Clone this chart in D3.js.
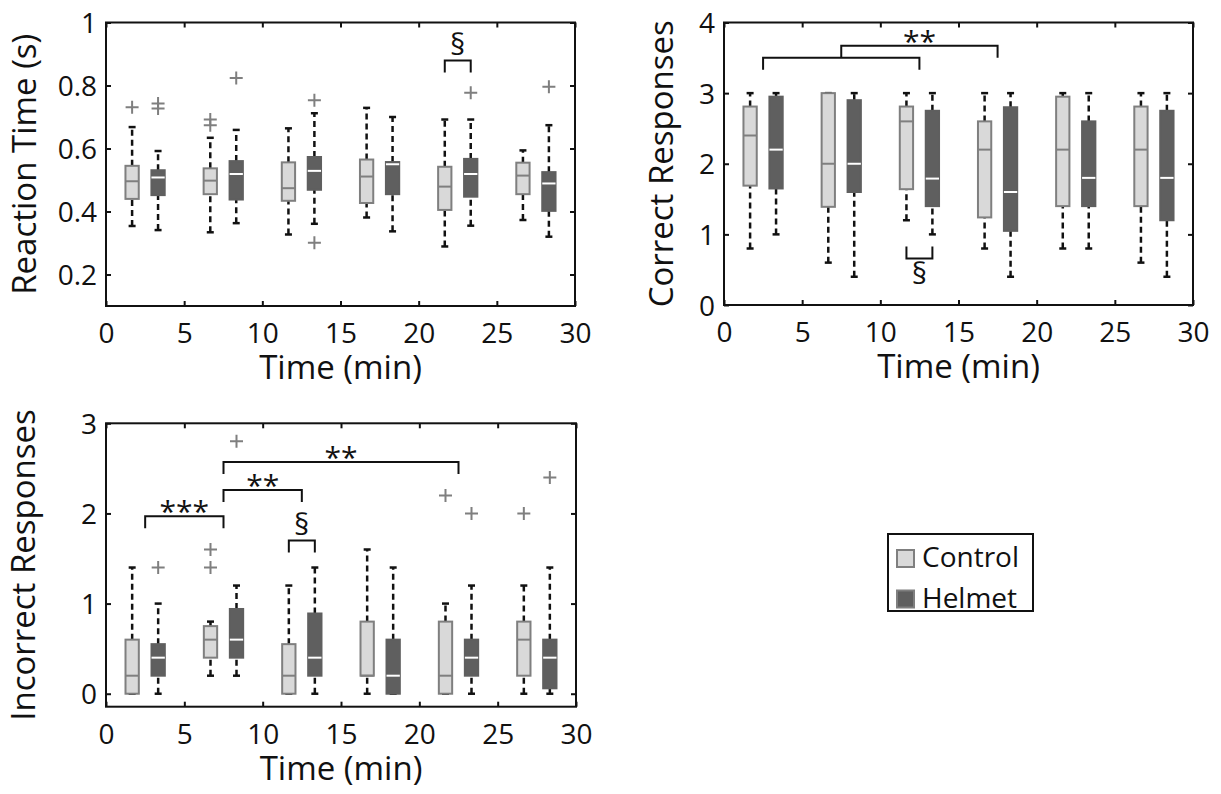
<!DOCTYPE html>
<html>
<head>
<meta charset="utf-8">
<title>Boxplots</title>
<script src="https://cdn.jsdelivr.net/npm/d3@7"></script>
<style>
  body { margin: 0; background: #fff; }
  text { font-family: "Open Sans", "Noto Sans", sans-serif; fill: #111; }
</style>
</head>
<body>
<svg id="chart" width="1221" height="794"></svg>
<script>
// time bins (min), one pair of boxes per bin
var timeBins = [2.5, 7.5, 12.5, 17.5, 22.5, 27.5]
var xTicks = [0, 5, 10, 15, 20, 25, 30]
var groups = ['Control', 'Helmet']

// each box: [lower whisker, q1, median, q3, upper whisker]
var rtControl = [
  [0.354, 0.44, 0.496, 0.545, 0.668],
  [0.334, 0.455, 0.498, 0.537, 0.634],
  [0.327, 0.434, 0.474, 0.556, 0.664],
  [0.381, 0.427, 0.511, 0.565, 0.729],
  [0.289, 0.405, 0.479, 0.542, 0.692],
  [0.373, 0.455, 0.514, 0.555, 0.594]
]
var rtHelmet = [
  [0.341, 0.452, 0.508, 0.531, 0.592],
  [0.363, 0.438, 0.519, 0.56, 0.659],
  [0.361, 0.469, 0.529, 0.573, 0.712],
  [0.337, 0.455, 0.55, 0.557, 0.7],
  [0.355, 0.447, 0.519, 0.567, 0.692],
  [0.32, 0.402, 0.489, 0.525, 0.674]
]
var rtControlOut = [[0.731], [0.692, 0.674], [], [], [], []]
var rtHelmetOut = [[0.743, 0.727], [0.824], [0.753, 0.301], [], [0.777], [0.796]]
var rtTicks = [0.2, 0.4, 0.6, 0.8, 1]
var rtTickLabels = ['0.2', '0.4', '0.6', '0.8', '1']
// [from, to, level, label, side]
var rtBrackets = [[21.67, 23.33, 0.879, '§', 'above']]

var crControl = [
  [0.8, 1.69, 2.4, 2.81, 3.0],
  [0.6, 1.39, 2.0, 3.0, 3.0],
  [1.2, 1.64, 2.6, 2.81, 3.0],
  [0.8, 1.24, 2.2, 2.6, 3.0],
  [0.8, 1.4, 2.2, 2.95, 3.0],
  [0.6, 1.4, 2.2, 2.81, 3.0]
]
var crHelmet = [
  [1.0, 1.65, 2.2, 2.95, 3.0],
  [0.4, 1.6, 2.0, 2.9, 3.0],
  [1.0, 1.4, 1.79, 2.75, 3.0],
  [0.4, 1.05, 1.6, 2.8, 3.0],
  [0.8, 1.4, 1.8, 2.6, 3.0],
  [0.4, 1.2, 1.8, 2.75, 3.0]
]
var crControlOut = [[], [], [], [], [], []]
var crHelmetOut = [[], [], [], [], [], []]
var crTicks = [0, 1, 2, 3, 4]
var crTickLabels = ['0', '1', '2', '3', '4']
var crBrackets = [
  [2.5, 12.5, 3.5, '', 'above'],
  [7.5, 17.5, 3.67, '**', 'above'],
  [11.67, 13.33, 0.66, '§', 'below']
]

var irControl = [
  [0, 0, 0.2, 0.6, 1.4],
  [0.2, 0.4, 0.6, 0.75, 0.8],
  [0, 0, 0.2, 0.55, 1.2],
  [0, 0.2, 0.2, 0.8, 1.6],
  [0, 0, 0.2, 0.8, 1.0],
  [0, 0.2, 0.6, 0.8, 1.2]
]
var irHelmet = [
  [0, 0.2, 0.4, 0.55, 1.0],
  [0.2, 0.4, 0.6, 0.94, 1.2],
  [0, 0.2, 0.4, 0.89, 1.4],
  [0, 0, 0.2, 0.6, 1.4],
  [0, 0.2, 0.4, 0.6, 1.2],
  [0, 0.06, 0.4, 0.6, 1.4]
]
var irControlOut = [[], [1.6, 1.4], [], [], [2.2], [2.0]]
var irHelmetOut = [[1.4], [2.8], [], [], [2.0], [2.4]]
var irTicks = [0, 1, 2, 3]
var irTickLabels = ['0', '1', '2', '3']
var irBrackets = [
  [2.5, 7.5, 1.97, '***', 'above'],
  [7.5, 12.5, 2.26, '**', 'above'],
  [7.5, 22.5, 2.57, '**', 'above'],
  [11.67, 13.33, 1.70, '§', 'above']
]

var colors = { Control: '#d9d9d9', Helmet: '#5f5f5f' }
var edge = '#7f7f7f'
var svg = d3.select('#chart')

function drawPanel(p) {
  var x = d3.scaleLinear().domain([0, 30]).range([p.left, p.right])
  var y = d3.scaleLinear().domain(p.yDomain).range([p.bottom, p.top])
  var g = svg.append('g')

  // axes, ticks pointing inwards on all sides
  g.append('g').attr('transform', 'translate(0,' + p.bottom + ')')
    .call(d3.axisBottom(x).tickValues(xTicks).tickSize(-5).tickSizeOuter(0).tickPadding(17))
  g.append('g').attr('transform', 'translate(0,' + p.top + ')')
    .call(d3.axisTop(x).tickValues(xTicks).tickSize(-5).tickSizeOuter(0).tickFormat(''))
  var ay = g.append('g').attr('transform', 'translate(' + p.left + ',0)')
    .call(d3.axisLeft(y).tickValues(p.yTicks).tickSize(-5).tickSizeOuter(0).tickPadding(9)
      .tickFormat(function(d, i) { return p.yTickLabels[i] }))
  g.append('g').attr('transform', 'translate(' + p.right + ',0)')
    .call(d3.axisRight(y).tickValues(p.yTicks).tickSize(-5).tickSizeOuter(0).tickFormat(''))
  g.selectAll('.domain').remove()
  g.selectAll('.tick line').attr('stroke', '#111').attr('stroke-width', 2)
  g.selectAll('.tick text').attr('font-size', 28).attr('fill', '#111')
    .style('font-family', '"Open Sans", sans-serif')
  ay.selectAll('.tick text').attr('dy', '0.36em')

  g.append('rect')
    .attr('x', p.left).attr('y', p.top)
    .attr('width', p.right - p.left).attr('height', p.bottom - p.top)
    .attr('fill', 'none').attr('stroke', '#111').attr('stroke-width', 2)

  g.append('text')
    .attr('transform', 'translate(' + p.labelX + ',' + (p.top + p.bottom) / 2 + ') rotate(-90)')
    .attr('text-anchor', 'middle').attr('font-size', 33)
    .text(p.yLabel)
  g.append('text')
    .attr('x', (p.left + p.right) / 2).attr('y', p.bottom + 73)
    .attr('text-anchor', 'middle').attr('font-size', 33)
    .text('Time (min)')

  var halfW = (x(0.85) - x(0)) / 2
  groups.forEach(function(name, gi) {
    var stats = gi === 0 ? p.control : p.helmet
    var outs = gi === 0 ? p.controlOut : p.helmetOut
    var off = gi === 0 ? -0.83 : 0.83
    stats.forEach(function(s, i) {
      var cx = x(timeBins[i] + off)
      var b = g.append('g')
      // whiskers
      ;[[s[0], s[1]], [s[3], s[4]]].forEach(function(w) {
        if (w[0] === w[1]) return
        b.append('line').attr('x1', cx).attr('x2', cx)
          .attr('y1', y(w[0])).attr('y2', y(w[1]))
          .attr('stroke', '#111').attr('stroke-width', 2.5).attr('stroke-dasharray', '6,4')
      })
      ;[s[0], s[4]].forEach(function(v) {
        b.append('line').attr('x1', cx - 3.5).attr('x2', cx + 3.5)
          .attr('y1', y(v)).attr('y2', y(v))
          .attr('stroke', '#111').attr('stroke-width', 2.5)
      })
      b.append('rect')
        .attr('x', cx - halfW).attr('width', halfW * 2)
        .attr('y', y(s[3])).attr('height', Math.max(0, y(s[1]) - y(s[3])))
        .attr('fill', colors[name])
        .attr('stroke', gi === 0 ? edge : colors[name]).attr('stroke-width', 2)
      b.append('line').attr('x1', cx - halfW).attr('x2', cx + halfW)
        .attr('y1', y(s[2])).attr('y2', y(s[2]))
        .attr('stroke', gi === 0 ? edge : '#fff').attr('stroke-width', 2)
      outs[i].forEach(function(v) {
        b.append('path')
          .attr('d', 'M' + (cx - 6.5) + ',' + y(v) + 'h13M' + cx + ',' + (y(v) - 6.5) + 'v13')
          .attr('stroke', edge).attr('stroke-width', 2).attr('fill', 'none')
      })
    })
  })

  // significance brackets
  p.brackets.forEach(function(br) {
    var x1 = x(br[0]), x2 = x(br[1]), yy = y(br[2])
    var arm = br[4] === 'above' ? 12 : -12
    g.append('path')
      .attr('d', 'M' + x1 + ',' + (yy + arm) + 'V' + yy + 'H' + x2 + 'V' + (yy + arm))
      .attr('fill', 'none').attr('stroke', '#111').attr('stroke-width', 2)
    if (!br[3]) return
    var isSec = br[3] === '§'
    var fs = isSec ? 30 : 30
    var cy = br[4] === 'above' ? yy - (isSec ? 16 : 10.5) : yy + 15
    g.append('text')
      .attr('x', (x1 + x2) / 2).attr('y', cy + (isSec ? 0.36 : 0.56) * fs)
      .attr('text-anchor', 'middle').attr('font-size', fs)
      .text(br[3])
  })
}

drawPanel({
  left: 106, right: 575, top: 22.5, bottom: 306,
  yDomain: [0.1, 1], yTicks: rtTicks, yTickLabels: rtTickLabels,
  yLabel: 'Reaction Time (s)', labelX: 36,
  control: rtControl, helmet: rtHelmet,
  controlOut: rtControlOut, helmetOut: rtHelmetOut, brackets: rtBrackets
})
drawPanel({
  left: 724, right: 1193, top: 22.5, bottom: 305,
  yDomain: [0, 4], yTicks: crTicks, yTickLabels: crTickLabels,
  yLabel: 'Correct Responses', labelX: 673,
  control: crControl, helmet: crHelmet,
  controlOut: crControlOut, helmetOut: crHelmetOut, brackets: crBrackets
})
drawPanel({
  left: 106, right: 576, top: 423.3, bottom: 706.7,
  yDomain: [-0.144, 3], yTicks: irTicks, yTickLabels: irTickLabels,
  yLabel: 'Incorrect Responses', labelX: 35,
  control: irControl, helmet: irHelmet,
  controlOut: irControlOut, helmetOut: irHelmetOut, brackets: irBrackets
})

// legend
var legend = svg.append('g')
legend.append('rect')
  .attr('x', 888).attr('y', 534).attr('width', 145).attr('height', 77)
  .attr('fill', '#fff').attr('stroke', '#111').attr('stroke-width', 2)
groups.forEach(function(name, i) {
  legend.append('rect')
    .attr('x', 897).attr('y', 550 + i * 40.5).attr('width', 17).attr('height', 17)
    .attr('fill', colors[name]).attr('stroke', edge).attr('stroke-width', 2)
  legend.append('text')
    .attr('x', 922).attr('y', 567 + i * 40.5).attr('font-size', 28)
    .text(name)
})
</script>
</body>
</html>
